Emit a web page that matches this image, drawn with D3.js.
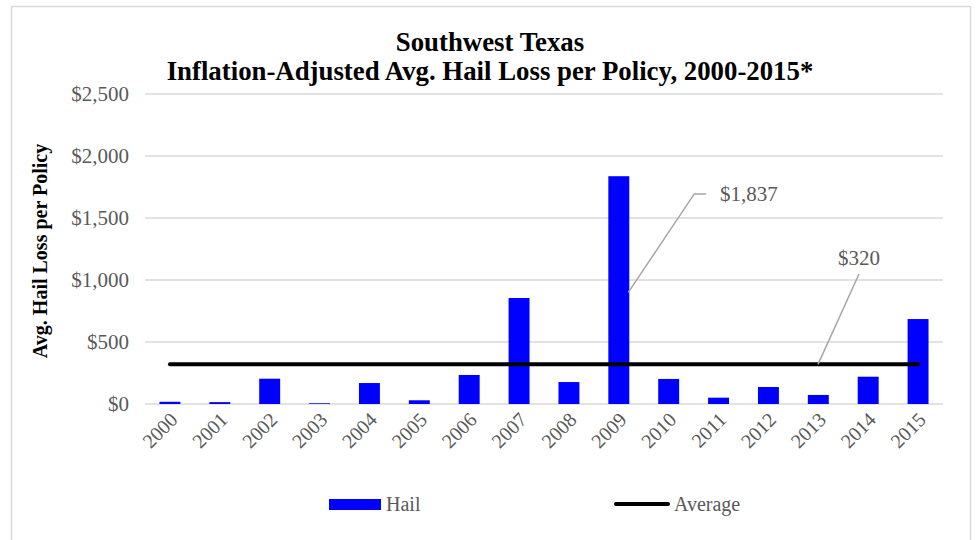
<!DOCTYPE html>
<html><head><meta charset="utf-8">
<script src="https://cdn.jsdelivr.net/npm/d3@7"></script>
<style>body{margin:0;background:#fff}svg{font-family:"Liberation Serif","Times New Roman",serif}</style>
</head><body><svg id="c" width="977" height="540"></svg>
<script>
const years = ["2000","2001","2002","2003","2004","2005","2006","2007","2008","2009","2010","2011","2012","2013","2014","2015"];
const hail = [18,15,204,6,169,30,234,855,177,1837,202,51,137,73,220,685];
const averageValue = 320;
const yTicks = [0,500,1000,1500,2000,2500];
const titleLines = ["Southwest Texas","Inflation-Adjusted Avg. Hail Loss per Policy, 2000-2015*"];

const svg = d3.select("#c");
svg.append("rect").attr("x",11.5).attr("y",6.5).attr("width",959).attr("height",545).attr("fill","#fff").attr("stroke","#d9d9d9").attr("stroke-width",1.5);

const m = {l:145, r:943, t:94, b:404};
const x = d3.scaleBand().domain(years).range([m.l,m.r]).paddingInner(0.58).paddingOuter(0.29);
const y = d3.scaleLinear().domain([0,2500]).range([m.b,m.t]);

// grid
svg.append("g").selectAll("line").data(yTicks).join("line")
  .attr("x1",m.l).attr("x2",m.r).attr("y1",d=>y(d)).attr("y2",d=>y(d))
  .attr("stroke","#d9d9d9").attr("stroke-width",1.5);

// y axis labels
const yAxis = d3.axisLeft(y).tickValues(yTicks).tickSize(0).tickPadding(16).tickFormat(d=>"$"+d3.format(",")(d));
const ya = svg.append("g").attr("transform",`translate(${m.l},0)`).call(yAxis);
ya.select(".domain").remove();
ya.selectAll("text").attr("fill","#595959").attr("font-size",21).attr("font-family","Liberation Serif");

// bars
svg.append("g").selectAll("rect").data(hail).join("rect")
  .attr("x",(d,i)=>x(years[i])).attr("width",x.bandwidth())
  .attr("y",d=>y(d)).attr("height",d=>y(0)-y(d)).attr("fill","#0000ff");

// average line
const cx = yr => x(yr)+x.bandwidth()/2;
svg.append("line").attr("x1",cx(years[0])).attr("x2",cx(years[years.length-1]))
  .attr("y1",y(averageValue)).attr("y2",y(averageValue))
  .attr("stroke","#000").attr("stroke-width",4).attr("stroke-linecap","round");

// x axis labels
const xa = svg.append("g").attr("transform",`translate(0,${m.b})`).call(d3.axisBottom(x).tickSize(0).tickPadding(0));
xa.select(".domain").remove();
xa.selectAll("text").attr("fill","#595959").attr("font-size",20).attr("font-family","Liberation Serif")
  .attr("text-anchor","end").attr("dy",0)
  .attr("transform","translate(9,17) rotate(-45)");

// annotations
const ann = svg.append("g").attr("fill","none").attr("stroke","#a6a6a6").attr("stroke-width",1.5);
const i09 = years.indexOf("2009");
const bx = x(years[i09])+x.bandwidth();
ann.append("polyline").attr("points",`${bx-1},${y(900)} ${bx+65},${y(1694)} ${bx+77},${y(1694)}`);
ann.append("line").attr("x1",818).attr("y1",y(averageValue)).attr("x2",859).attr("y2",y(1048));
svg.append("text").attr("x",720).attr("y",y(1694)+7).attr("fill","#595959").attr("font-size",21).text("$"+d3.format(",")(hail[i09]));
svg.append("text").attr("x",838).attr("y",y(1170)+6).attr("fill","#595959").attr("font-size",21).text("$"+averageValue);

// title
svg.append("g").selectAll("text").data(titleLines).join("text")
  .attr("x",490).attr("y",(d,i)=>51+i*29).attr("text-anchor","middle")
  .attr("font-weight","bold").attr("font-size",26.8).attr("fill","#000").text(d=>d);

// y axis title
svg.append("text").attr("transform",`translate(47,${(m.t+m.b)/2+2}) rotate(-90)`)
  .attr("text-anchor","middle").attr("font-weight","bold").attr("font-size",20).attr("fill","#000")
  .text("Avg. Hail Loss per Policy");

// legend
const lg = svg.append("g");
lg.append("rect").attr("x",329).attr("y",499).attr("width",52).attr("height",11).attr("fill","#0000ff");
lg.append("text").attr("x",386).attr("y",511).attr("fill","#595959").attr("font-size",20).text("Hail");
lg.append("line").attr("x1",616).attr("x2",668).attr("y1",504).attr("y2",504).attr("stroke","#000").attr("stroke-width",4).attr("stroke-linecap","round");
lg.append("text").attr("x",674).attr("y",511).attr("fill","#595959").attr("font-size",20).text("Average");
</script></body></html>
